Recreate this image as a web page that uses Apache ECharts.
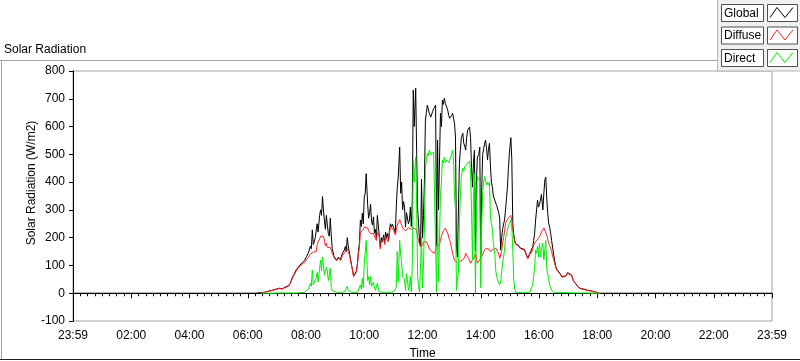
<!DOCTYPE html>
<html><head><meta charset="utf-8">
<script src="https://cdn.jsdelivr.net/npm/echarts@6/dist/echarts.min.js"></script>
<style>html,body{margin:0;padding:0;background:#fff}#c{width:800px;height:361px}</style>
</head><body><div id="c"></div>
<script>
// time of day in minutes
const timeMin = [
0,373,388,396,404,413,419,425,431,437,
444,448,452,456,460,464,468,472,477,481,
485,487,489,491,493,495,497,499,501,503,
505,508,510,512,514,516,518,520,522,524,
526,528,530,532,534,536,538,543,547,551,
555,559,561,563,565,567,569,571,574,576,
578,580,582,584,586,588,590,592,594,596,
598,600,602,604,607,609,611,613,615,617,
619,621,623,625,627,629,631,633,635,637,
640,642,644,646,648,650,652,654,656,658,
660,662,664,666,668,670,673,675,677,679,
681,683,685,687,689,691,693,695,697,699,
701,703,706,708,710,712,714,716,718,720,
722,724,726,728,730,732,734,737,739,741,
743,745,747,749,751,753,755,757,759,761,
763,765,767,770,772,774,776,778,780,782,
784,786,788,790,792,794,796,798,800,803,
805,807,809,811,813,815,817,819,821,823,
825,827,829,831,833,836,838,840,842,844,
846,848,850,852,854,856,858,860,862,864,
866,869,871,873,875,877,879,881,883,885,
887,889,891,893,895,897,899,902,904,906,
908,910,912,914,916,918,920,922,926,930,
935,937,941,945,947,949,951,953,955,957,
959,961,963,965,968,970,972,974,976,978,
980,982,984,986,988,990,992,994,996,998,
1003,1007,1011,1015,1019,1023,1027,1031,1036,1040,
1046,1052,1060,1069,1077,1085,1440
];
const globalRad = [
0,0,2,4,8,12,15,18,16,22,
27,38,58,70,85,94,100,110,118,132,
145,150,170,160,228,175,185,200,195,250,
220,280,300,280,348,300,260,230,280,245,
215,205,270,210,160,145,130,120,130,122,
144,155,168,150,200,170,150,130,100,83,
62,60,68,80,108,150,180,263,240,288,
250,346,360,430,320,270,290,320,260,245,
275,216,230,195,280,245,238,166,200,185,
210,180,220,200,215,190,227,250,240,248,
238,230,216,310,380,418,526,360,400,300,
330,310,238,290,290,250,263,310,240,335,
731,600,738,500,300,250,180,170,410,200,
280,407,623,650,677,670,648,634,640,655,
665,659,677,170,551,300,300,648,600,695,
680,702,684,690,659,640,630,623,640,648,
630,612,560,166,130,300,468,515,560,576,
540,530,515,560,587,590,598,560,454,382,
470,515,150,400,490,500,526,130,380,500,
520,540,551,520,480,520,540,455,400,382,
350,335,324,315,310,290,270,155,200,230,
250,263,300,340,382,450,504,560,480,250,
210,190,178,180,176,172,168,162,165,158,
135,126,144,150,166,190,216,263,300,335,
310,320,335,356,300,360,407,418,340,288,
250,238,216,190,166,140,120,100,88,83,
72,60,55,62,74,77,66,45,34,23,
17,15,11,8,4,0,0
];
const diffuseRad = [
null,null,1,3,7,11,14,17,15,20,
25,36,55,67,80,90,95,105,110,122,
130,135,140,140,145,148,150,155,150,175,
185,195,205,210,212,205,190,170,180,165,
160,158,165,155,145,138,127,117,127,118,
135,145,150,145,160,150,140,126,98,81,
60,58,66,77,104,140,165,218,222,225,
230,238,240,242,235,225,220,214,212,210,
215,205,208,190,218,212,205,160,185,178,
195,175,205,195,200,185,218,238,232,235,
230,224,210,228,245,250,265,255,250,235,
238,230,224,220,228,236,240,235,230,232,
236,234,240,228,200,190,175,166,180,172,
185,190,188,185,180,170,160,155,150,148,
150,144,150,165,166,170,175,190,205,216,
225,230,234,228,216,200,190,180,160,144,
130,119,115,112,108,110,112,115,118,120,
125,130,144,135,130,125,120,108,115,120,
125,130,144,130,108,115,120,120,125,140,
150,155,160,162,166,160,155,150,152,155,
158,160,162,158,150,140,125,120,150,180,
200,220,252,260,265,270,274,280,260,230,
205,185,176,178,174,170,166,160,162,155,
132,124,140,148,160,172,180,187,190,194,
198,200,209,220,227,235,238,230,210,194,
180,172,166,150,135,122,110,94,85,80,
70,58,53,60,72,75,64,44,33,22,
16,14,10,7,3,0,null
];
const directRad = [
null,null,0,0,0,0,1,1,1,1,
1,1,1,1,1,2,2,2,3,8,
15,20,36,25,83,30,40,45,54,75,
40,90,119,80,130,100,65,70,94,80,
45,40,90,22,10,5,3,3,3,3,
4,4,10,3,25,10,3,3,3,3,
3,3,3,3,3,8,22,30,15,54,
20,108,110,190,45,60,30,60,25,20,
40,22,10,5,36,15,5,3,3,3,
3,3,3,3,3,3,3,3,3,3,
5,3,3,20,150,40,190,140,110,60,
60,50,10,70,50,10,25,60,5,100,
479,400,490,310,60,20,5,3,200,20,
100,250,450,480,504,495,515,500,505,500,
508,515,512,3,300,40,40,350,400,479,
470,490,470,480,475,470,480,490,500,515,
480,350,300,10,15,80,250,350,420,450,
440,455,460,465,470,472,475,440,300,120,
350,430,0,250,420,410,400,20,250,360,
400,420,420,390,400,390,400,270,250,230,
180,140,80,60,45,40,30,40,75,105,
130,155,200,210,227,240,252,263,238,155,
50,15,3,3,3,3,3,3,3,3,
3,3,3,5,30,60,94,155,144,170,
130,180,130,160,180,120,155,190,85,70,
50,30,20,10,5,3,2,2,2,2,
2,2,2,2,2,1,1,1,1,1,
1,1,1,0,0,0,null
];
const seriesNames = ['Global', 'Diffuse', 'Direct'];
const seriesColors = ['#000000', '#ff2020', '#00ee00'];
const xTickLabels = ['23:59','02:00','04:00','06:00','08:00','10:00','12:00','14:00','16:00','18:00','20:00','22:00','23:59'];
const chartTitle = 'Solar Radiation';
const yName = 'Solar Radiation (W/m2)';
const xName = 'Time';

const FONT = 'Liberation Sans';
function pairs(vals) {
  const out = [];
  for (let i = 0; i < timeMin.length; i++) if (vals[i] !== null) out.push([timeMin[i], vals[i]]);
  return out;
}
const allVals = [globalRad, diffuseRad, directRad];

const graphics = [
  {type:'line', shape:{x1:0,y1:60.5,x2:800,y2:60.5}, style:{stroke:'#a0a0a0',lineWidth:1}, z:1},
  {type:'line', shape:{x1:1.5,y1:60,x2:1.5,y2:360}, style:{stroke:'#a0a0a0',lineWidth:1}, z:1},
  {type:'line', shape:{x1:0,y1:359.5,x2:800,y2:359.5}, style:{stroke:'#202020',lineWidth:1}, z:1},
  {type:'text', x:4, y:50, style:{text:chartTitle, font:'12px "'+FONT+'"', fill:'#000', textVerticalAlign:'middle'}, z:5},
  {type:'rect', shape:{x:717.5,y:-1,width:84,height:72}, style:{fill:'#f0f0f0',stroke:'#b4b4b4',lineWidth:1}, z:50}
];
seriesNames.forEach((n, i) => {
  const y0 = 4.5 + i * 22.5;
  graphics.push({type:'rect', shape:{x:721.5,y:y0,width:42,height:17}, style:{fill:'#ffffff',stroke:'#505050',lineWidth:1}, z:51});
  graphics.push({type:'text', x:724, y:y0+9, style:{text:n, font:'12px "'+FONT+'"', fill:'#000', textVerticalAlign:'middle'}, z:52});
  graphics.push({type:'rect', shape:{x:767.5,y:y0,width:30,height:17}, style:{fill:'#ffffff',stroke:'#505050',lineWidth:1}, z:51});
  graphics.push({type:'polyline', shape:{points:[[770,y0+13],[777,y0+3],[785,y0+13],[793,y0+3]]}, style:{stroke:seriesColors[i],lineWidth:1,fill:null}, z:52});
});

const chart = echarts.init(document.getElementById('c'), null, {renderer:'canvas'});
chart.setOption({
  animation: false,
  backgroundColor: '#ffffff',
  grid: {left:73, top:71, width:699, height:250, show:true, borderColor:'#a0a0a0', borderWidth:1, backgroundColor:'#ffffff', outerBoundsMode:'none', containLabel:false},
  xAxis: [{
    type:'value', min:0, max:1440, interval:120, position:'bottom', offset:2,
    name:xName, nameLocation:'middle', nameGap:25, nameMoveOverlap:false,
    nameTextStyle:{fontFamily:FONT, fontSize:12, color:'#000'},
    axisLine:{show:false},
    axisTick:{show:true, length:5, lineStyle:{color:'#000'}},
    minorTick:{show:true, splitNumber:8, length:3, lineStyle:{color:'#000'}},
    axisLabel:{margin:7, fontFamily:FONT, fontSize:12, color:'#000',
      formatter: v => xTickLabels[Math.round(v/120)]},
    splitLine:{show:false}
  },{
    type:'value', min:0, max:1440, position:'top',
    axisLine:{show:true, lineStyle:{color:'#000'}}, axisTick:{show:false}, axisLabel:{show:false}, splitLine:{show:false}
  }],
  yAxis: [{
    type:'value', min:-100, max:800, interval:100, offset:2,
    name:yName, nameLocation:'middle', nameGap:33, nameRotate:90, nameMoveOverlap:false,
    nameTextStyle:{fontFamily:FONT, fontSize:12, color:'#000', padding:[0,0,0,26]},
    axisLine:{show:false},
    axisTick:{show:true, length:4, lineStyle:{color:'#000'}},
    axisLabel:{margin:6, fontFamily:FONT, fontSize:12, color:'#000'},
    splitLine:{show:false}
  },{
    type:'value', min:-100, max:800, position:'left',
    axisLine:{show:true, lineStyle:{color:'#000'}}, axisTick:{show:false}, axisLabel:{show:false}, splitLine:{show:false}
  }],
  series: seriesNames.map((n, i) => ({
    name:n, type:'line', xAxisIndex:0, yAxisIndex:0,
    data:pairs(allVals[i]), showSymbol:false, symbol:'none',
    lineStyle:{color:seriesColors[i], width:1}, itemStyle:{color:seriesColors[i]},
    z: 2 + i
  })),
  graphic: graphics
});
</script></body></html>
